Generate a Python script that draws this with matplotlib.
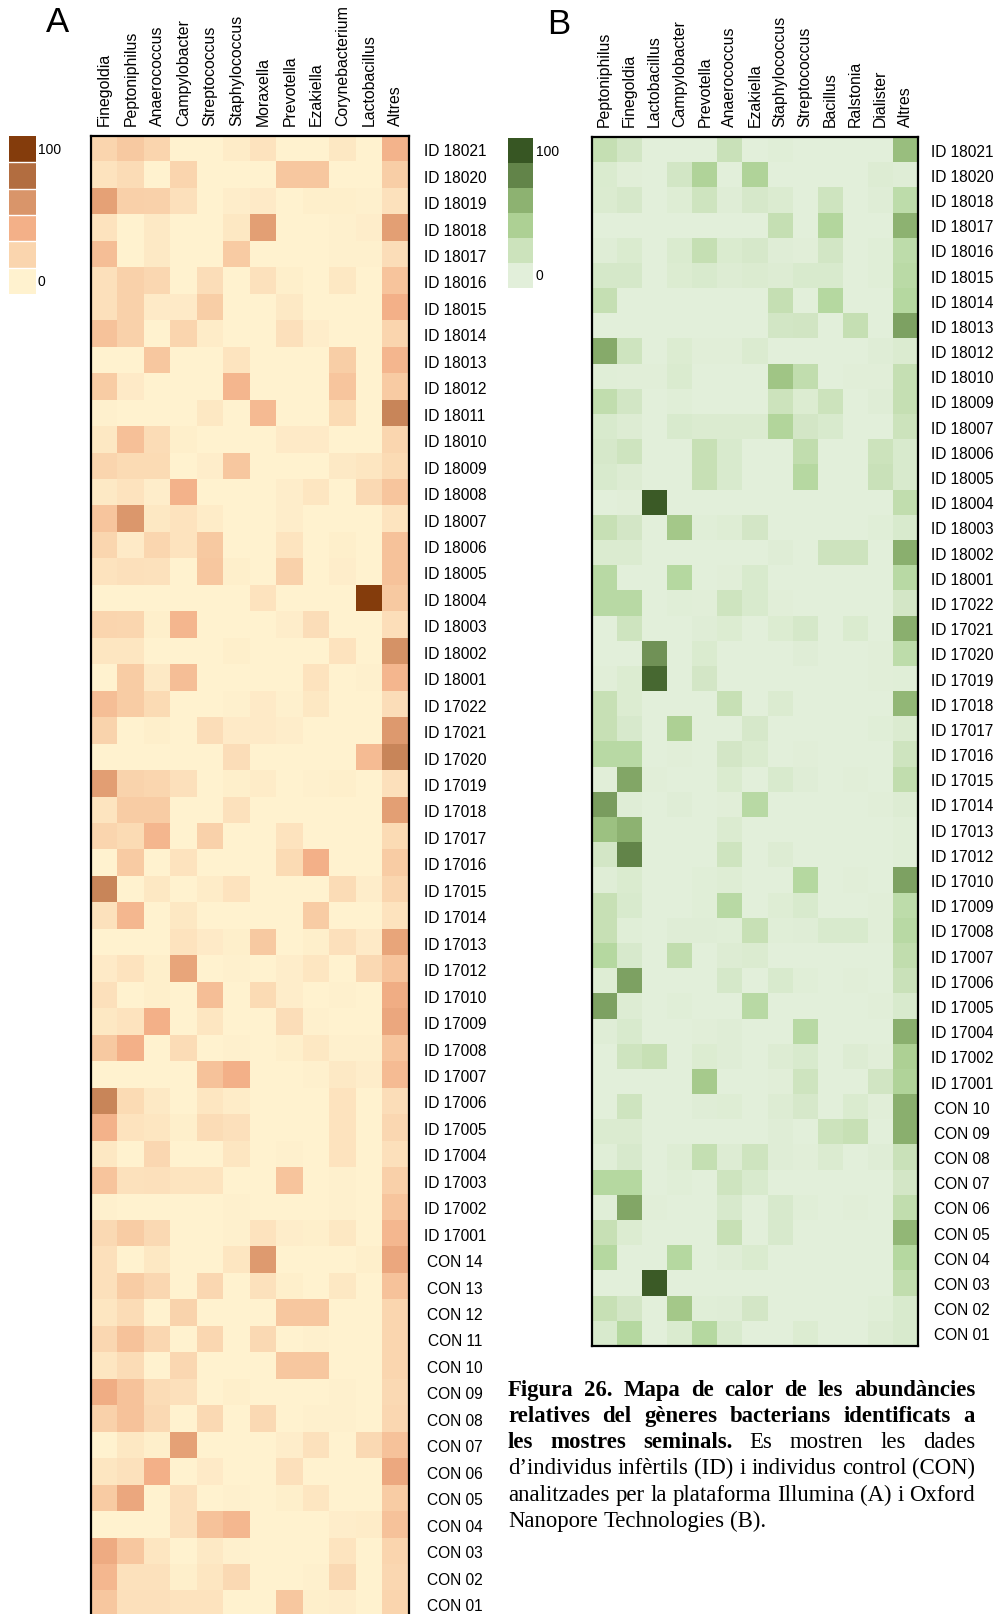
import matplotlib
matplotlib.use("Agg")
import matplotlib.pyplot as plt
import numpy as np
from matplotlib.colors import LinearSegmentedColormap
from matplotlib.transforms import IdentityTransform

plt.rcParams["font.family"] = ["Liberation Sans", "DejaVu Sans"]

# ---- data -------------------------------------------------------------
genera_a = ["Finegoldia", "Peptoniphilus", "Anaerococcus", "Campylobacter",
            "Streptococcus", "Staphylococcus", "Moraxella", "Prevotella",
            "Ezakiella", "Corynebacterium", "Lactobacillus", "Altres"]
samples_a = ["ID 18021", "ID 18020", "ID 18019", "ID 18018", "ID 18017", "ID 18016",
             "ID 18015", "ID 18014", "ID 18013", "ID 18012", "ID 18011", "ID 18010",
             "ID 18009", "ID 18008", "ID 18007", "ID 18006", "ID 18005", "ID 18004",
             "ID 18003", "ID 18002", "ID 18001", "ID 17022", "ID 17021", "ID 17020",
             "ID 17019", "ID 17018", "ID 17017", "ID 17016", "ID 17015", "ID 17014",
             "ID 17013", "ID 17012", "ID 17010", "ID 17009", "ID 17008", "ID 17007",
             "ID 17006", "ID 17005", "ID 17004", "ID 17003", "ID 17002", "ID 17001",
             "CON 14", "CON 13", "CON 12", "CON 11", "CON 10", "CON 09", "CON 08",
             "CON 07", "CON 06", "CON 05", "CON 04", "CON 03", "CON 02", "CON 01"]
# relative abundance (%), Illumina
abund_a = [
    [20, 27, 20, 0, 0, 4, 10, 0, 0, 7, 0, 38],
    [10, 15, 0, 20, 0, 0, 0, 28, 28, 0, 0, 24],
    [50, 23, 22, 12, 0, 3, 5, 0, 2, 2, 1, 11],
    [10, 0, 6, 0, 0, 7, 52, 0, 0, 1, 3, 52],
    [33, 0, 6, 0, 0, 26, 0, 0, 0, 1, 1, 14],
    [12, 22, 18, 0, 14, 0, 11, 2, 0, 7, 0, 30],
    [12, 22, 5, 5, 24, 0, 0, 6, 0, 0, 0, 40],
    [31, 22, 0, 20, 4, 0, 0, 12, 3, 0, 0, 20],
    [0, 0, 28, 0, 0, 9, 0, 0, 0, 24, 0, 37],
    [25, 5, 0, 0, 0, 37, 0, 0, 0, 29, 0, 26],
    [1, 0, 0, 0, 7, 0, 35, 0, 0, 16, 0, 70],
    [7, 32, 15, 2, 0, 0, 0, 5, 5, 0, 0, 19],
    [20, 16, 16, 0, 3, 28, 0, 0, 0, 6, 8, 16],
    [6, 10, 3, 39, 0, 0, 0, 3, 8, 0, 17, 29],
    [29, 58, 7, 10, 4, 0, 0, 3, 0, 0, 0, 9],
    [19, 5, 19, 10, 27, 0, 0, 9, 0, 2, 0, 31],
    [10, 12, 11, 0, 28, 2, 0, 22, 0, 3, 0, 31],
    [0, 0, 0, 0, 0, 0, 10, 0, 0, 0, 100, 27],
    [20, 19, 2, 37, 0, 0, 0, 3, 14, 0, 0, 13],
    [8, 8, 0, 0, 0, 2, 0, 0, 0, 10, 0, 62],
    [0, 25, 6, 33, 0, 0, 0, 0, 10, 0, 1, 37],
    [33, 25, 16, 0, 0, 1, 5, 1, 7, 0, 0, 14],
    [21, 0, 2, 0, 14, 5, 5, 3, 0, 0, 0, 57],
    [0, 0, 0, 0, 0, 14, 0, 0, 0, 0, 34, 70],
    [53, 21, 19, 12, 0, 2, 4, 0, 1, 2, 0, 12],
    [9, 25, 25, 0, 0, 11, 0, 0, 0, 0, 0, 52],
    [20, 16, 37, 0, 22, 0, 0, 10, 0, 0, 0, 16],
    [0, 26, 0, 10, 0, 0, 0, 16, 40, 0, 0, 25],
    [70, 0, 7, 0, 4, 10, 0, 0, 0, 15, 3, 19],
    [11, 36, 0, 7, 0, 0, 0, 0, 25, 0, 0, 10],
    [0, 0, 0, 10, 5, 2, 27, 0, 2, 12, 5, 48],
    [5, 10, 2, 48, 0, 1, 0, 3, 8, 0, 17, 29],
    [12, 0, 2, 0, 33, 0, 16, 3, 0, 1, 0, 42],
    [7, 10, 40, 0, 8, 0, 0, 14, 1, 0, 0, 46],
    [27, 40, 0, 15, 0, 1, 0, 2, 7, 1, 1, 29],
    [0, 0, 0, 0, 31, 40, 0, 0, 1, 6, 3, 34],
    [70, 16, 6, 0, 8, 4, 0, 0, 0, 10, 0, 14],
    [39, 10, 8, 2, 15, 12, 0, 0, 0, 10, 0, 18],
    [7, 0, 18, 0, 0, 8, 0, 1, 0, 10, 0, 12],
    [30, 11, 12, 9, 9, 0, 0, 30, 0, 1, 0, 23],
    [1, 0, 0, 0, 0, 1, 0, 0, 0, 1, 0, 29],
    [17, 25, 17, 0, 0, 1, 10, 3, 2, 7, 0, 36],
    [12, 0, 7, 0, 0, 8, 56, 0, 0, 0, 2, 46],
    [12, 25, 18, 0, 18, 0, 11, 2, 0, 7, 0, 31],
    [8, 15, 0, 21, 0, 0, 0, 28, 28, 0, 0, 19],
    [18, 31, 18, 0, 18, 0, 17, 0, 1, 0, 0, 19],
    [8, 15, 0, 18, 0, 0, 0, 28, 28, 0, 0, 19],
    [42, 31, 15, 12, 0, 2, 0, 0, 0, 1, 0, 17],
    [22, 31, 17, 0, 17, 0, 17, 0, 1, 1, 0, 18],
    [0, 7, 2, 50, 0, 0, 0, 3, 11, 0, 17, 31],
    [8, 11, 40, 0, 5, 0, 0, 12, 0, 0, 0, 45],
    [26, 46, 0, 12, 0, 1, 0, 2, 8, 0, 0, 25],
    [0, 0, 0, 12, 31, 36, 0, 0, 0, 3, 4, 31],
    [43, 28, 8, 0, 6, 1, 0, 0, 0, 9, 0, 20],
    [36, 11, 11, 2, 8, 17, 0, 0, 1, 17, 0, 18],
    [28, 12, 12, 10, 10, 0, 0, 28, 2, 3, 0, 20],
]

genera_b = ["Peptoniphilus", "Finegoldia", "Lactobacillus", "Campylobacter",
            "Prevotella", "Anaerococcus", "Ezakiella", "Staphylococcus",
            "Streptococcus", "Bacillus", "Ralstonia", "Dialister", "Altres"]
samples_b = ["ID 18021", "ID 18020", "ID 18018", "ID 18017", "ID 18016", "ID 18015",
             "ID 18014", "ID 18013", "ID 18012", "ID 18010", "ID 18009", "ID 18007",
             "ID 18006", "ID 18005", "ID 18004", "ID 18003", "ID 18002", "ID 18001",
             "ID 17022", "ID 17021", "ID 17020", "ID 17019", "ID 17018", "ID 17017",
             "ID 17016", "ID 17015", "ID 17014", "ID 17013", "ID 17012", "ID 17010",
             "ID 17009", "ID 17008", "ID 17007", "ID 17006", "ID 17005", "ID 17004",
             "ID 17002", "ID 17001", "CON 10", "CON 09", "CON 08", "CON 07",
             "CON 06", "CON 05", "CON 04", "CON 03", "CON 02", "CON 01"]
# relative abundance (%), Oxford Nanopore
abund_b = [
    [25, 15, 0, 0, 0, 22, 0, 2, 0, 0, 0, 0, 52],
    [8, 1, 0, 15, 38, 0, 38, 0, 0, 0, 0, 5, 3],
    [7, 11, 0, 4, 18, 3, 11, 7, 0, 18, 0, 3, 30],
    [0, 0, 0, 0, 0, 0, 0, 25, 0, 36, 0, 0, 60],
    [3, 8, 0, 8, 25, 8, 11, 3, 1, 15, 0, 2, 30],
    [12, 12, 0, 6, 9, 5, 7, 5, 9, 9, 0, 2, 32],
    [25, 0, 0, 0, 0, 0, 0, 25, 0, 35, 0, 0, 35],
    [0, 0, 0, 0, 0, 0, 0, 15, 16, 0, 25, 0, 68],
    [64, 18, 0, 6, 1, 1, 7, 0, 0, 0, 0, 3, 7],
    [2, 1, 1, 8, 0, 0, 0, 48, 28, 0, 1, 1, 25],
    [28, 15, 0, 2, 0, 0, 0, 20, 6, 20, 0, 3, 25],
    [9, 5, 0, 9, 7, 7, 7, 37, 14, 9, 0, 0, 20],
    [11, 18, 0, 0, 24, 9, 0, 0, 28, 0, 0, 20, 9],
    [9, 5, 0, 0, 24, 9, 0, 0, 34, 0, 0, 22, 9],
    [0, 1, 98, 0, 0, 0, 0, 0, 0, 0, 0, 0, 28],
    [24, 14, 0, 45, 2, 4, 14, 0, 0, 0, 0, 2, 9],
    [7, 7, 0, 0, 0, 0, 0, 3, 0, 19, 19, 0, 62],
    [33, 0, 0, 35, 0, 1, 9, 0, 0, 0, 0, 0, 33],
    [33, 33, 0, 2, 1, 18, 9, 1, 0, 0, 0, 0, 14],
    [0, 18, 0, 0, 3, 6, 0, 6, 12, 0, 8, 0, 62],
    [0, 0, 74, 0, 8, 0, 0, 0, 3, 0, 0, 1, 30],
    [1, 6, 92, 0, 14, 0, 0, 0, 0, 0, 0, 1, 2],
    [24, 6, 0, 0, 0, 24, 0, 7, 0, 0, 0, 0, 57],
    [24, 10, 0, 40, 0, 0, 11, 0, 0, 0, 0, 2, 7],
    [33, 33, 0, 1, 0, 14, 8, 0, 1, 0, 0, 0, 18],
    [1, 66, 1, 0, 0, 8, 0, 9, 3, 0, 1, 0, 28],
    [70, 3, 0, 3, 0, 1, 33, 0, 0, 0, 0, 1, 5],
    [50, 60, 0, 0, 0, 7, 0, 0, 0, 0, 0, 0, 2],
    [14, 80, 0, 0, 0, 18, 0, 5, 0, 0, 0, 0, 2],
    [3, 8, 0, 0, 2, 4, 0, 0, 35, 0, 1, 0, 68],
    [24, 9, 0, 0, 2, 33, 0, 4, 9, 0, 0, 1, 30],
    [24, 2, 0, 3, 3, 2, 24, 2, 3, 9, 9, 1, 33],
    [35, 10, 0, 28, 0, 5, 7, 0, 0, 0, 0, 0, 28],
    [4, 68, 0, 0, 0, 12, 0, 9, 2, 0, 1, 0, 22],
    [68, 5, 0, 2, 0, 0, 33, 0, 0, 0, 0, 1, 9],
    [3, 9, 0, 0, 1, 3, 0, 0, 33, 0, 0, 0, 62],
    [0, 18, 24, 0, 6, 3, 0, 5, 9, 0, 5, 1, 40],
    [0, 0, 0, 0, 44, 0, 0, 1, 18, 0, 0, 16, 38],
    [0, 18, 0, 0, 3, 4, 0, 5, 11, 0, 8, 1, 62],
    [7, 7, 0, 0, 0, 0, 0, 3, 0, 20, 24, 0, 62],
    [2, 10, 0, 4, 26, 5, 18, 3, 1, 7, 0, 3, 22],
    [35, 35, 0, 2, 0, 18, 9, 0, 0, 0, 0, 0, 14],
    [2, 66, 1, 0, 0, 10, 0, 10, 2, 0, 1, 0, 28],
    [24, 6, 0, 0, 0, 24, 0, 10, 0, 0, 0, 0, 57],
    [35, 0, 0, 35, 0, 3, 8, 0, 0, 0, 0, 0, 35],
    [0, 0, 98, 0, 0, 0, 0, 0, 0, 0, 0, 0, 28],
    [24, 14, 0, 45, 2, 3, 14, 0, 0, 0, 0, 2, 9],
    [9, 35, 0, 8, 35, 9, 0, 0, 6, 0, 0, 5, 9],
]

scale_ticks = [100, 80, 60, 40, 20, 0]

# ---- colour scales ----------------------------------------------------
oranges = LinearSegmentedColormap.from_list("oranges", [
    (0.00, "#FFF2CF"), (0.10, "#FDE3BE"), (0.20, "#FAD5AE"), (0.30, "#F7C49C"),
    (0.40, "#F3B088"), (0.50, "#E6A277"), (0.60, "#D9956A"), (0.70, "#C9865A"),
    (1.00, "#843C0C")])
greens = LinearSegmentedColormap.from_list("greens", [
    (0.00, "#E2EFDA"), (0.08, "#DAEBCF"), (0.15, "#D2E6C5"), (0.25, "#C6E0B4"),
    (0.35, "#B5D8A0"), (0.45, "#A5C98A"), (0.55, "#95BB7A"), (0.62, "#8AAF6E"),
    (0.68, "#7EA263"), (0.75, "#6F8F55"), (0.82, "#5E8045"), (1.00, "#375623")])

W, H = 999, 1615
fig = plt.figure(figsize=(W / 100, H / 100), dpi=100)


def box(l, t, r, b):
    return [l / W, 1 - b / H, (r - l) / W, (b - t) / H]


def heatmap(rect, values, cols, rows, cmap, label_x):
    ax = fig.add_axes(box(*rect))
    ax.imshow(np.array(values, dtype=float), cmap=cmap, vmin=0, vmax=100,
              aspect="auto", interpolation="nearest")
    ax.xaxis.tick_top()
    ax.set_xticks(range(len(cols)))
    ax.set_xticklabels(cols, rotation=90, fontsize=11.4)
    ax.yaxis.tick_right()
    ax.set_yticks(range(len(rows)))
    ax.set_yticklabels(rows, fontsize=11.2, ha="center")
    ax.tick_params(axis="x", length=0, pad=8)
    ax.tick_params(axis="y", length=0, pad=(label_x - rect[2]) * 0.72)
    for s in ax.spines.values():
        s.set_linewidth(1.6)
        s.set_color("black")
    return ax


def scale_bar(rect, cmap, label_x, sep):
    ax = fig.add_axes(box(*rect))
    ax.imshow(np.array(scale_ticks, dtype=float).reshape(-1, 1), cmap=cmap,
              vmin=0, vmax=100, aspect="auto", interpolation="nearest")
    if sep:
        for k in range(len(scale_ticks) - 1):
            ax.axhline(k + 0.5, color="white", lw=1)
    ax.axis("off")
    n = len(scale_ticks)
    bh = (rect[3] - rect[1]) / n
    fig.text(label_x / W, 1 - (rect[1] + bh / 2) / H, str(scale_ticks[0]),
             fontsize=10, va="center", ha="left")
    fig.text(label_x / W, 1 - (rect[3] - bh / 2) / H, str(scale_ticks[-1]),
             fontsize=10, va="center", ha="left")


heatmap((91, 137, 409, 137 + 56 * 26.45), abund_a, genera_a, samples_a, oranges, 455)
heatmap((592, 138, 918, 1347), abund_b, genera_b, samples_b, greens, 962)

scale_bar((9, 137, 36, 295), oranges, 38, True)
scale_bar((508, 139, 533, 289), greens, 536, False)

fig.text(58 / W, 1 - 23 / H, "A", fontsize=25, ha="center", va="center")
fig.text(559 / W, 1 - 25 / H, "B", fontsize=25, ha="center", va="center")

# ---- caption, justified by hand -----------------------------------------
caption = [
    ([("Figura 26. Mapa de calor de les abundàncies", "bold")], True),
    ([("relatives del gèneres bacterians identificats a", "bold")], True),
    ([("les mostres seminals.", "bold"), ("Es mostren les dades", "normal")], True),
    ([("d\u2019individus infèrtils (ID) i individus control (CON)", "normal")], True),
    ([("analitzades per la plataforma Illumina (A) i Oxford", "normal")], True),
    ([("Nanopore Technologies (B).", "normal")], False),
]
x_left, x_right = 508, 975
baselines = [1396, 1422, 1448, 1474, 1501, 1527]
renderer = fig.canvas.get_renderer()


def word_widths(size):
    out = []
    for runs, _ in caption:
        ws = []
        for chunk, wt in runs:
            for w in chunk.split(" "):
                t = fig.text(0, 0, w, fontsize=size, family="Liberation Serif", weight=wt)
                ws.append(t.get_window_extent(renderer).width)
                t.remove()
        out.append(ws)
    return out


# shrink the type until every line fits with at least a normal word space
cap_size = 17.0
while True:
    space_w = 0.25 * cap_size * 100 / 72
    widths = word_widths(cap_size)
    need = max(sum(ws) + (len(ws) - 1) * space_w for ws in widths)
    if need <= x_right - x_left or cap_size < 12:
        break
    cap_size -= 0.1

for (runs, justify), yb, ws in zip(caption, baselines, widths):
    words = [(w, wt) for chunk, wt in runs for w in chunk.split(" ")]
    gap = (x_right - x_left - sum(ws)) / (len(ws) - 1) if justify else space_w
    x = x_left
    for (w, wt), wd in zip(words, ws):
        fig.text(x, H - yb, w, fontsize=cap_size, family="Liberation Serif",
                 weight=wt, va="baseline", ha="left", transform=IdentityTransform())
        x += wd + gap

fig.savefig("out.png", dpi=100)
